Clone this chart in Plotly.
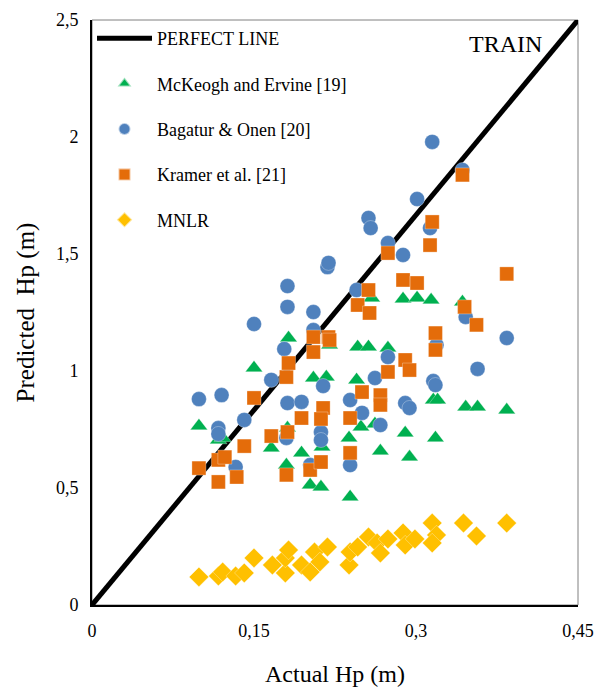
import plotly.graph_objects as go

# ---------------- data ----------------
perfect_x = [0, 0.45]
perfect_y = [0, 2.5]

mck_x = [0.099, 0.117, 0.121, 0.150, 0.166, 0.180, 0.181, 0.182, 0.194, 0.202,
         0.205, 0.212, 0.213, 0.217, 0.220, 0.238, 0.239, 0.245, 0.246, 0.249,
         0.256, 0.259, 0.262, 0.267, 0.274, 0.288, 0.290, 0.294, 0.301, 0.314,
         0.316, 0.318, 0.320, 0.343, 0.346, 0.357, 0.384]
mck_y = [0.765, 0.705, 0.714, 1.013, 0.671, 0.598, 0.756, 1.141, 0.650, 0.513,
         0.970, 0.504, 0.675, 0.974, 1.111, 0.714, 0.462, 0.962, 1.103, 0.761,
         1.103, 1.312, 0.774, 0.658, 1.098, 1.308, 0.735, 0.632, 1.312, 1.303,
         0.876, 0.714, 0.876, 1.295, 0.846, 0.846, 0.833]

bag_x = [0.099, 0.120, 0.117, 0.117, 0.133, 0.141, 0.150, 0.166, 0.178, 0.181,
         0.180, 0.181, 0.181, 0.194, 0.202, 0.205, 0.205, 0.214, 0.212, 0.212,
         0.218, 0.219, 0.239, 0.239, 0.245, 0.250, 0.256, 0.258, 0.262, 0.267,
         0.274, 0.274, 0.288, 0.290, 0.294, 0.301, 0.313, 0.316, 0.318, 0.319,
         0.315, 0.343, 0.346, 0.357, 0.384]
bag_y = [0.880, 0.897, 0.756, 0.731, 0.590, 0.791, 1.201, 0.962, 1.094, 0.863,
         0.714, 1.274, 1.363, 0.868, 0.598, 1.252, 1.175, 0.936, 0.739, 0.705,
         1.444, 1.462, 0.876, 0.598, 1.346, 0.821, 1.654, 1.611, 0.970, 0.769,
         1.547, 1.060, 1.496, 0.863, 0.842, 1.735, 1.611, 0.957, 0.940, 1.111,
         1.979, 1.859, 1.231, 1.009, 1.141]

kra_x = [0.099, 0.117, 0.117, 0.123, 0.134, 0.141, 0.150, 0.166, 0.180, 0.182,
         0.181, 0.180, 0.194, 0.202, 0.205, 0.205, 0.219, 0.220, 0.212, 0.214,
         0.212, 0.239, 0.239, 0.246, 0.250, 0.256, 0.257, 0.267, 0.267, 0.274,
         0.274, 0.288, 0.290, 0.294, 0.301, 0.313, 0.315, 0.318, 0.318, 0.343,
         0.345, 0.356, 0.384]
kra_y = [0.585, 0.526, 0.620, 0.632, 0.547, 0.679, 0.885, 0.722, 0.974, 1.034,
         0.739, 0.556, 0.799, 0.577, 1.081, 1.145, 1.145, 1.132, 0.611, 0.842,
         0.795, 0.799, 0.650, 1.282, 0.910, 1.346, 1.248, 0.897, 0.855, 1.504,
         0.996, 1.389, 1.047, 1.004, 1.376, 1.538, 1.637, 1.162, 1.090, 1.838,
         1.274, 1.197, 1.415]

mnlr_x = [0.099, 0.117, 0.121, 0.133, 0.141, 0.150, 0.167, 0.179, 0.179, 0.182,
          0.194, 0.202, 0.206, 0.211, 0.218, 0.238, 0.239, 0.246, 0.256, 0.264,
          0.267, 0.274, 0.288, 0.290, 0.299, 0.315, 0.319, 0.315, 0.344, 0.356,
          0.384]
mnlr_y = [0.120, 0.124, 0.141, 0.124, 0.137, 0.201, 0.171, 0.137, 0.201, 0.235,
          0.171, 0.141, 0.226, 0.184, 0.248, 0.171, 0.226, 0.248, 0.291, 0.265,
          0.222, 0.282, 0.308, 0.256, 0.282, 0.350, 0.299, 0.265, 0.350, 0.295,
          0.350]

x_ticks = [0, 0.15, 0.3, 0.45]
x_tick_labels = ["0", "0,15", "0,3", "0,45"]
y_ticks = [0, 0.5, 1, 1.5, 2, 2.5]
y_tick_labels = ["0", "0,5", "1", "1,5", "2", "2,5"]

FONT = "Liberation Serif"

fig = go.Figure()

fig.add_trace(go.Scatter(x=perfect_x, y=perfect_y, mode="lines", name="PERFECT LINE",
                         line=dict(color="black", width=5), legendgroup="a"))
fig.add_trace(go.Scatter(x=mck_x, y=mck_y, mode="markers", name="McKeogh and Ervine [19]",
                         marker=dict(symbol="triangle-up", size=15, color="#00B050",
                                     line=dict(width=0.5, color="rgba(255,255,255,0.6)")),
                         legendgroup="b"))
fig.add_trace(go.Scatter(x=bag_x, y=bag_y, mode="markers", name="Bagatur & Onen [20]",
                         marker=dict(symbol="circle", size=15, color="#4F81BD",
                                     line=dict(width=0.5, color="rgba(255,255,255,0.6)")),
                         legendgroup="c"))
fig.add_trace(go.Scatter(x=kra_x, y=kra_y, mode="markers", name="Kramer et al. [21]",
                         marker=dict(symbol="square", size=14, color="#E46C0A",
                                     line=dict(width=0.5, color="rgba(255,255,255,0.6)")),
                         legendgroup="d"))
fig.add_trace(go.Scatter(x=mnlr_x, y=mnlr_y, mode="markers", name="MNLR",
                         marker=dict(symbol="diamond", size=15, color="#FFC000",
                                     line=dict(width=0.5, color="rgba(255,255,255,0.6)")),
                         legendgroup="e"))

fig.update_layout(
    width=607, height=691,
    margin=dict(l=84, r=37, t=12, b=94),
    paper_bgcolor="white", plot_bgcolor="white",
    font=dict(family=FONT, color="black", size=17),
    showlegend=True,
    legend=dict(x=0.0, y=1.0, xanchor="left", yanchor="top",
                bgcolor="rgba(0,0,0,0)", font=dict(family=FONT, size=18, color="black"),
                tracegroupgap=19, itemwidth=55, itemsizing="constant"),
    xaxis=dict(range=[0, 0.45], tickvals=x_ticks, ticktext=x_tick_labels,
               showgrid=False, zeroline=False, showline=True, linecolor="black",
               linewidth=2, ticks="", tickfont=dict(family=FONT, size=18),
               ticklabelstandoff=8, automargin=False,
               title=dict(text="Actual Hp (m)", font=dict(family=FONT, size=24), standoff=26)),
    yaxis=dict(range=[0, 2.5], tickvals=y_ticks, ticktext=y_tick_labels,
               showgrid=False, zeroline=False, showline=True, linecolor="black",
               linewidth=2, ticks="", tickfont=dict(family=FONT, size=18),
               ticklabelstandoff=8, automargin=False,
               title=dict(text="Predicted  Hp (m)", font=dict(family=FONT, size=25), standoff=14)),
    shapes=[dict(type="rect", xref="paper", yref="paper", x0=0, y0=0, x1=1, y1=1,
                 line=dict(color="#808080", width=1), layer="below")],
    annotations=[dict(text="TRAIN", x=0.93, y=0.985, xref="paper", yref="paper",
                      xanchor="right", yanchor="top", showarrow=False,
                      font=dict(family=FONT, size=24, color="black"))],
)

fig.write_html("out.html")
